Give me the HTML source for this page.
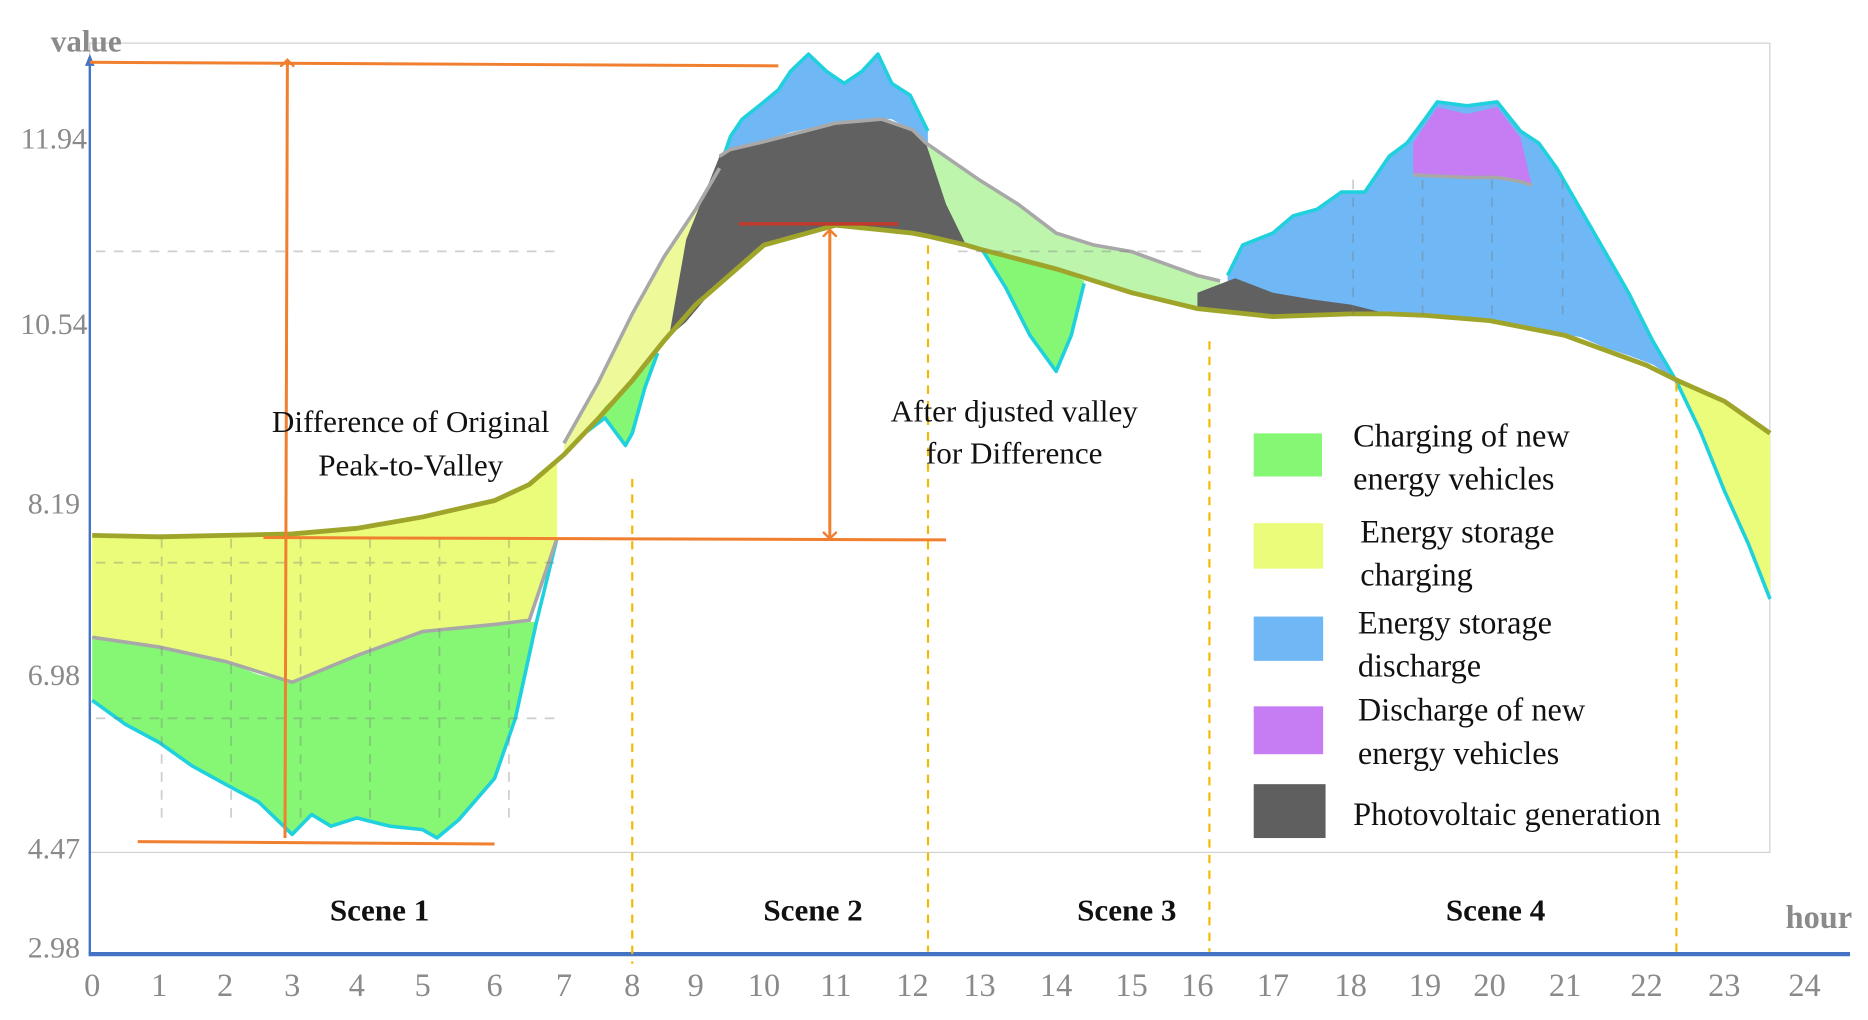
<!DOCTYPE html>
<html><head><meta charset="utf-8"><style>
html,body{margin:0;padding:0;background:#fff;}
svg{display:block;}
text{font-family:"Liberation Serif",serif;}
</style></head><body>
<svg id="chart" width="1868" height="1020" viewBox="0 0 1560 852" preserveAspectRatio="none" xmlns="http://www.w3.org/2000/svg">
<rect x="75" y="36" width="1403" height="676" fill="#fff" stroke="#d0d0d0" stroke-width="1"/>
<g id="layers"></g>
<g id="grid" stroke="#777" stroke-width="1.5" stroke-dasharray="8,7" opacity="0.35"></g>
<g id="axes"></g>
<g id="annot"></g>
</svg>
<script>
// ---- axis config ----
const yTickValues = [2.98, 4.47, 6.98, 8.19, 10.54, 11.94];
const yTickPx = [791, 708, 563, 420, 270, 115];
const xTickHours = [0,1,2,3,4,5,6,7,8,9,10,11,12,13,14,15,16,17,18,19,20,21,22,23,24];
const xTickPx = [77,133,188,244,298,353,413,471,528,581,638,698,762,818,882,945,1000,1063,1128,1190,1244,1307,1375,1440,1507];
const xTickLabels = ["0","1","2","3","4","5","6","7","8","9","10","11","12","13","14","15","16","17","18","19","20","21","22","23","24"];
const yTickLabels = ["2.98","4.47","6.98","8.19","10.54","11.94"];

// ---- data ----
const adjHours = [0,1,2,3,4,5,6,6.5,7,7.5,8,8.5,9,10,11,12,12.2,12.8,13,14,15,16,17,18,18.5,19,20,21,22,22.4,23,23.57];
const adjValues = [7.96,7.95,7.96,7.97,8.01,8.09,8.22,8.43,8.82,9.29,9.79,10.31,10.68,11.13,11.28,11.22,11.20,11.13,11.10,10.95,10.77,10.65,10.59,10.61,10.61,10.60,10.56,10.38,9.99,9.79,9.52,9.10];

const s1Hours = [0,1,2,3,4,5,6,6.5,6.9];
const s1Upper = [7.96,7.95,7.96,7.97,8.01,8.09,8.22,8.43,8.74];
const s1Mid = [7.24,7.17,7.07,6.86,7.11,7.28,7.33,7.36,7.94];

const evHours = [0,0.5,1,1.5,2,2.5,3,3.3,3.6,4,4.5,5,5.2,5.5,6,6.3,6.6,6.9];
const evTop = [7.24,7.20,7.17,7.12,7.07,6.97,6.86,6.98,7.05,7.11,7.20,7.28,7.30,7.31,7.33,7.34,7.35,7.94];
const evBottom = [6.60,6.25,5.99,5.65,5.39,5.13,4.66,4.95,4.78,4.90,4.78,4.73,4.61,4.87,5.47,6.34,7.34,7.94];

const s2yHours = [7,7.5,8,8.5,9,9.35];
const s2yUpper = [8.97,9.76,10.61,11.04,11.40,11.71];
const s2yLower = [8.82,9.29,9.79,10.31,10.68,10.90];

const dipHours = [7.3,7.6,7.9,8.0,8.2,8.4];
const dipTop = [9.10,9.45,9.70,9.79,9.95,10.15];
const dipBottom = [9.10,9.30,8.94,9.10,9.70,10.15];

const pvHours = [8.6,8.85,9.35,9.5,10,11,11.6,12,12.2,12.5,12.8];
const pvUpper = [10.46,11.17,11.80,11.85,11.91,12.05,12.08,12.00,11.90,11.44,11.13];
const pvLower = [10.38,10.55,10.85,10.92,11.13,11.28,11.25,11.22,11.20,11.16,11.13];

const esdHours = [9.35,9.51,9.68,10,10.2,10.37,10.62,10.87,11.11,11.34,11.55,11.73,11.97,12.23];
const esdUpper = [11.71,11.95,12.08,12.21,12.30,12.44,12.57,12.44,12.35,12.44,12.57,12.35,12.26,11.99];
const esdLower = [11.71,11.85,11.88,11.91,11.95,11.98,12.01,12.04,12.05,12.06,12.08,12.08,12.00,11.88];

const paleHours = [12.2,13,13.5,14,14.5,15,15.5,16,16.3];
const paleUpper = [11.90,11.62,11.44,11.22,11.13,11.08,10.99,10.90,10.86];
const paleLower = [11.20,11.10,11.02,10.95,10.86,10.77,10.71,10.65,10.63];

const ev2Hours = [13.03,13.34,13.66,14,14.2,14.37];
const ev2Top = [11.10,11.06,11.00,10.95,10.90,10.86];
const ev2Bottom = [11.10,10.81,10.38,9.91,10.38,10.84];

const pv2Hours = [16,16.5,17,17.5,18,18.5];
const pv2Upper = [10.77,10.88,10.77,10.72,10.68,10.61];
const pv2Lower = [10.65,10.62,10.59,10.60,10.61,10.61];

const esd2Hours = [16.4,16.6,17,17.26,17.57,17.88,18.19,18.52,18.76,19,19.19,19.65,20.1,20.41,20.65,20.89,21.19,21.49,21.78,22.08,22.38];
const esd2Upper = [10.90,11.13,11.22,11.35,11.40,11.53,11.53,11.80,11.90,12.08,12.21,12.18,12.21,11.99,11.90,11.71,11.40,11.08,10.77,10.31,9.79];
const esd2Lower = [10.63,10.62,10.59,10.60,10.60,10.61,10.61,10.61,10.61,10.60,10.60,10.58,10.56,10.50,10.45,10.40,10.36,10.22,10.12,10.00,9.80];

const evdHours = [18.84,19.19,19.65,20.1,20.41,20.56];
const evdUpper = [11.90,12.17,12.12,12.17,11.94,11.58];
const evdLower = [11.66,11.65,11.64,11.64,11.61,11.58];

const s4yHours = [22.38,22.69,23,23.3,23.57];
const s4yUpper = [9.80,9.66,9.52,9.30,9.10];
const s4yLower = [9.79,9.13,8.35,7.90,7.51];

const baseHours = [0,1,2,3,4,5,6,7,8,9,10,11,12,13,14,15,16,17,18,19,20,21,22,23,23.57];

// ---- scales ----
function interp(v, xs, ys){
  if (xs[0] > xs[xs.length-1]) { xs = xs.slice().reverse(); ys = ys.slice().reverse(); }
  if (v <= xs[0]) return ys[0] + (v - xs[0]) * (ys[1]-ys[0])/(xs[1]-xs[0]);
  for (let i=1;i<xs.length;i++){
    if (v <= xs[i]) return ys[i-1] + (v - xs[i-1])*(ys[i]-ys[i-1])/(xs[i]-xs[i-1]);
  }
  const n = xs.length-1;
  return ys[n] + (v - xs[n])*(ys[n]-ys[n-1])/(xs[n]-xs[n-1]);
}
const X = h => interp(h, xTickHours, xTickPx);
const Y = v => interp(v, yTickValues, yTickPx);

const NS = "http://www.w3.org/2000/svg";
const layers = document.getElementById('layers');
function mk(tag, attrs, parent){
  const e = document.createElementNS(NS, tag);
  for (const k in attrs) e.setAttribute(k, attrs[k]);
  parent.appendChild(e);
  return e;
}
function areaPath(hours, up, lo){
  let d = '';
  hours.forEach((h,i)=>{ d += (i?'L':'M') + X(h).toFixed(1) + ',' + Y(up[i]).toFixed(1); });
  for (let i=hours.length-1;i>=0;i--) d += 'L' + X(hours[i]).toFixed(1) + ',' + Y(lo[i]).toFixed(1);
  return d + 'Z';
}
function linePath(hours, vals){
  return hours.map((h,i)=>(i?'L':'M') + X(h).toFixed(1) + ',' + Y(vals[i]).toFixed(1)).join('');
}
function area(name, hours, up, lo, fill, edgeColor, edgeVals){
  const p = mk('path', {d: areaPath(hours, up, lo), fill: fill, stroke: 'none'}, layers);
  
  
  if (edgeColor){
    const e = mk('path', {d: linePath(hours, edgeVals), fill:'none', stroke: edgeColor, 'stroke-width': 3, 'stroke-linejoin':'round'}, layers);
    
    
  }
}
area('scene1-storage-charging', s1Hours, s1Upper, s1Mid, '#ebfc7a');
area('scene1-ev-charging', evHours, evTop, evBottom, '#85f774', '#1fd0dd', evBottom);
area('scene2-storage-charging', s2yHours, s2yUpper, s2yLower, '#eefa9a');
area('scene2-ev-dip', dipHours, dipTop, dipBottom, '#85f774', '#1fd0dd', dipBottom);
area('scene3-pale-area', paleHours, paleUpper, paleLower, '#bdf5ad');
area('scene4-storage-discharge', esd2Hours, esd2Upper, esd2Lower, '#6fb8f5', '#1fd0dd', esd2Upper);
area('scene2-storage-discharge', esdHours, esdUpper, esdLower, '#6fb8f5', '#1fd0dd', esdUpper);
area('scene2-photovoltaic', pvHours, pvUpper, pvLower, '#616161');
area('scene3-photovoltaic', pv2Hours, pv2Upper, pv2Lower, '#616161');
area('scene3-ev-charging', ev2Hours, ev2Top, ev2Bottom, '#85f774', '#1fd0dd', ev2Bottom);
area('ev-discharge', evdHours, evdUpper, evdLower, '#c67cf3');
area('scene4-storage-charging', s4yHours, s4yUpper, s4yLower, '#ebfc7a', '#1fd0dd', s4yLower);

// gray outline lines (original load boundaries)
[[s1Hours,s1Mid],[paleHours,paleUpper],[pvHours.slice(2,9),pvUpper.slice(2,9)],[s2yHours,s2yUpper],[evdHours,evdLower]].forEach(([h,v])=>{
  const l = mk('path',{d:linePath(h,v),fill:'none',stroke:'#a8a8a8','stroke-width':3},layers);
  
  
});
// adjusted load line
const adj = mk('path',{d:linePath(adjHours,adjValues),fill:'none',stroke:'#9ea52a','stroke-width':4},layers);



// grid
const grid = document.getElementById('grid');
[210,470,600].forEach(y=>{ mk('line',{x1:80,x2:470,y1:y,y2:y},grid); });
mk('line',{x1:800,x2:1010,y1:210,y2:210},grid);
[135,193,251,309,367,425].forEach(x=>{ mk('line',{x1:x,x2:x,y1:450,y2:690},grid); });
[1130,1188,1246,1305].forEach(x=>{ mk('line',{x1:x,x2:x,y1:150,y2:270},grid); });

// axes
const axes = document.getElementById('axes');
mk('line',{x1:75,y1:797,x2:75,y2:52,stroke:'#4472c4','stroke-width':2},axes);
mk('path',{d:'M75,45 L71,55 L79,55Z',fill:'#4472c4'},axes);
const xa = mk('line',{x1:74,y1:797,x2:1545,y2:797,stroke:'#4472c4','stroke-width':3.5},axes);


xTickHours.forEach((h,i)=>{
  const t = mk('text',{x:X(h),y:832,'text-anchor':'middle','font-size':27,fill:'#8a8a8a'},axes);
  t.textContent = xTickLabels[i];
  
  
});
yTickValues.forEach((v,i)=>{
  const t = mk('text',{x:45,y:Y(v)+9,'text-anchor':'middle','font-size':25,fill:'#8a8a8a'},axes);
  t.textContent = yTickLabels[i];
  
  
});
</script>
<svg style="position:absolute;left:0;top:0" width="1868" height="1020" viewBox="0 0 1560 852" preserveAspectRatio="none" xmlns="http://www.w3.org/2000/svg">
<defs><marker id="ar" markerWidth="12" markerHeight="12" refX="6" refY="6" orient="auto-start-reverse" markerUnits="userSpaceOnUse"><path d="M0,0 L6,6 L0,12" fill="none" stroke="#f07f2f" stroke-width="2"/></marker></defs>
<g stroke="#f5b800" stroke-width="1.8" stroke-dasharray="7,6">
<line x1="528" y1="400" x2="528" y2="805"/><line x1="775" y1="205" x2="775" y2="795"/><line x1="1010" y1="285" x2="1010" y2="795"/><line x1="1400" y1="320" x2="1400" y2="795"/>
</g>
<g stroke="#f07f2f" stroke-width="2.5" fill="none">
<line x1="75" y1="52" x2="650" y2="55"/>
<line x1="238" y1="700" x2="240" y2="50" marker-end="url(#ar)"/>
<line x1="220" y1="449" x2="790" y2="451"/>
<line x1="693" y1="192" x2="693" y2="450" marker-start="url(#ar)" marker-end="url(#ar)"/>
<line x1="115" y1="703" x2="413" y2="705"/>
</g>
<line x1="617" y1="187" x2="750" y2="187" stroke="#c0392b" stroke-width="3"/>
<g font-size="26" fill="#111" text-anchor="middle" style="font-family:'Liberation Serif',serif">
<text x="343" y="361">Difference of  Original</text>
<text x="343" y="397">Peak-to-Valley</text>
<text x="847" y="352">After djusted valley</text>
<text x="847" y="387">for Difference</text>
</g>
<g font-size="26" font-weight="bold" fill="#111" text-anchor="middle" style="font-family:'Liberation Serif',serif">
<text x="317" y="769">Scene 1</text>
<text x="679" y="769">Scene 2</text>
<text x="941" y="769">Scene 3</text>
<text x="1249" y="769">Scene 4</text>
</g>
<text x="1519" y="775" font-size="27" font-weight="bold" fill="#8a8a8a" text-anchor="middle" style="font-family:'Liberation Serif',serif">hour</text>
<text x="72" y="43" font-size="26" font-weight="bold" fill="#8a8a8a" text-anchor="middle" style="font-family:'Liberation Serif',serif">value</text>
<g font-size="27" fill="#111" style="font-family:'Liberation Serif',serif">
<rect x="1047" y="362" width="57" height="36" fill="#85f774"/>
<text x="1130" y="373">Charging of new</text>
<text x="1130" y="409">energy vehicles</text>
<rect x="1047" y="437" width="58" height="38" fill="#ebfc7a"/>
<text x="1136" y="453">Energy storage</text>
<text x="1136" y="489">charging</text>
<rect x="1047" y="515" width="58" height="37" fill="#6fb8f5"/>
<text x="1134" y="529">Energy storage</text>
<text x="1134" y="565">discharge</text>
<rect x="1047" y="590" width="58" height="40" fill="#c67cf3"/>
<text x="1134" y="602">Discharge of new</text>
<text x="1134" y="638">energy vehicles</text>
<rect x="1047" y="655" width="60" height="45" fill="#5f5f5f"/>
<text x="1130" y="689">Photovoltaic generation</text>
</g>
</svg>
</body></html>
